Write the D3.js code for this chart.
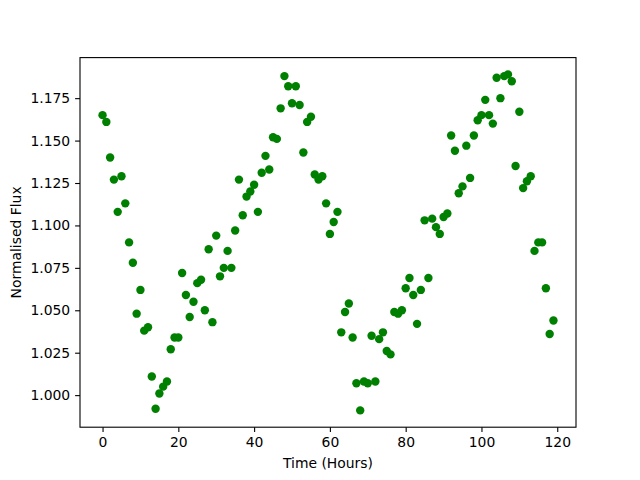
<!DOCTYPE html>
<html>
<head>
<meta charset="utf-8">
<script src="https://cdn.jsdelivr.net/npm/d3@7"></script>
<style>
  html, body { margin: 0; padding: 0; background: #fff; }
  svg { display: block; }
  text { font-family: "DejaVu Sans", sans-serif; }
</style>
</head>
<body>
<div id="chart"></div>
<script>
// hours 0..119, one reading per hour
const hours = d3.range(0, 120)
const flux = [
  1.165, 1.161, 1.140, 1.127, 1.108, 1.129, 1.113, 1.090, 1.078, 1.048,
  1.062, 1.038, 1.040, 1.011, 0.992, 1.001, 1.005, 1.008, 1.027, 1.034,
  1.034, 1.072, 1.059, 1.046, 1.055, 1.066, 1.068, 1.050, 1.086, 1.043,
  1.094, 1.070, 1.075, 1.085, 1.075, 1.097, 1.127, 1.106, 1.117, 1.120,
  1.124, 1.108, 1.131, 1.141, 1.133, 1.152, 1.151, 1.169, 1.188, 1.182,
  1.172, 1.182, 1.171, 1.143, 1.161, 1.164, 1.130, 1.127, 1.129, 1.113,
  1.095, 1.102, 1.108, 1.037, 1.049, 1.054, 1.034, 1.007, 0.991, 1.008,
  1.007, 1.035, 1.008, 1.033, 1.037, 1.026, 1.024, 1.049, 1.048, 1.050,
  1.063, 1.069, 1.059, 1.042, 1.062, 1.103, 1.069, 1.104, 1.099, 1.095,
  1.105, 1.107, 1.153, 1.144, 1.119, 1.123, 1.147, 1.128, 1.153, 1.162,
  1.165, 1.174, 1.165, 1.160, 1.187, 1.175, 1.188, 1.189, 1.185, 1.135,
  1.167, 1.122, 1.126, 1.129, 1.085, 1.090, 1.090, 1.063, 1.036, 1.044
]
const xTicks = [0, 20, 40, 60, 80, 100, 120]
const yTicks = [1.000, 1.025, 1.050, 1.075, 1.100, 1.125, 1.150, 1.175]
const xLabel = "Time (Hours)"
const yLabel = "Normalised Flux"

const width = 640, height = 480
const m = {top: 57.6, right: 64, bottom: 52.8, left: 80}
const iw = width - m.left - m.right
const ih = height - m.top - m.bottom

// matplotlib-style 5% margins around the data
const pad = (ext) => {
  const d = (ext[1] - ext[0]) * 0.05
  return [ext[0] - d, ext[1] + d]
}

const x = d3.scaleLinear().domain(pad(d3.extent(hours))).range([0, iw])
const y = d3.scaleLinear().domain(pad(d3.extent(flux))).range([ih, 0])

const svg = d3.select("#chart").append("svg")
  .attr("width", width).attr("height", height)

const g = svg.append("g").attr("transform", `translate(${m.left},${m.top})`)

g.append("g")
  .selectAll("circle")
  .data(hours)
  .join("circle")
  .attr("cx", (h) => x(h))
  .attr("cy", (h, i) => y(flux[i]))
  .attr("r", 4.2)
  .attr("fill", "#008000")

g.append("g")
  .attr("transform", `translate(0,${ih})`)
  .call(d3.axisBottom(x).tickValues(xTicks).tickFormat(d3.format("d")).tickSize(4.9).tickPadding(4.9))
  .call((gg) => gg.select(".domain").remove())
  .call((gg) => gg.selectAll("line").attr("stroke-width", 1.1))
  .call((gg) => gg.selectAll("text").attr("font-size", 13.9).attr("fill", "#000").style("font-family", "DejaVu Sans"))

g.append("g")
  .call(d3.axisLeft(y).tickValues(yTicks).tickFormat(d3.format(".3f")).tickSize(4.9).tickPadding(4.9))
  .call((gg) => gg.select(".domain").remove())
  .call((gg) => gg.selectAll("line").attr("stroke-width", 1.1))
  .call((gg) => gg.selectAll("text").attr("font-size", 13.9).attr("fill", "#000").style("font-family", "DejaVu Sans"))

g.append("rect")
  .attr("width", iw).attr("height", ih)
  .attr("fill", "none").attr("stroke", "#000").attr("stroke-width", 1.1)

svg.append("text")
  .attr("x", m.left + iw / 2).attr("y", 468)
  .attr("text-anchor", "middle").attr("font-size", 13.9)
  .text(xLabel)

svg.append("text")
  .attr("transform", `translate(21,${m.top + ih / 2}) rotate(-90)`)
  .attr("text-anchor", "middle").attr("font-size", 13.9)
  .text(yLabel)
</script>
</body>
</html>
